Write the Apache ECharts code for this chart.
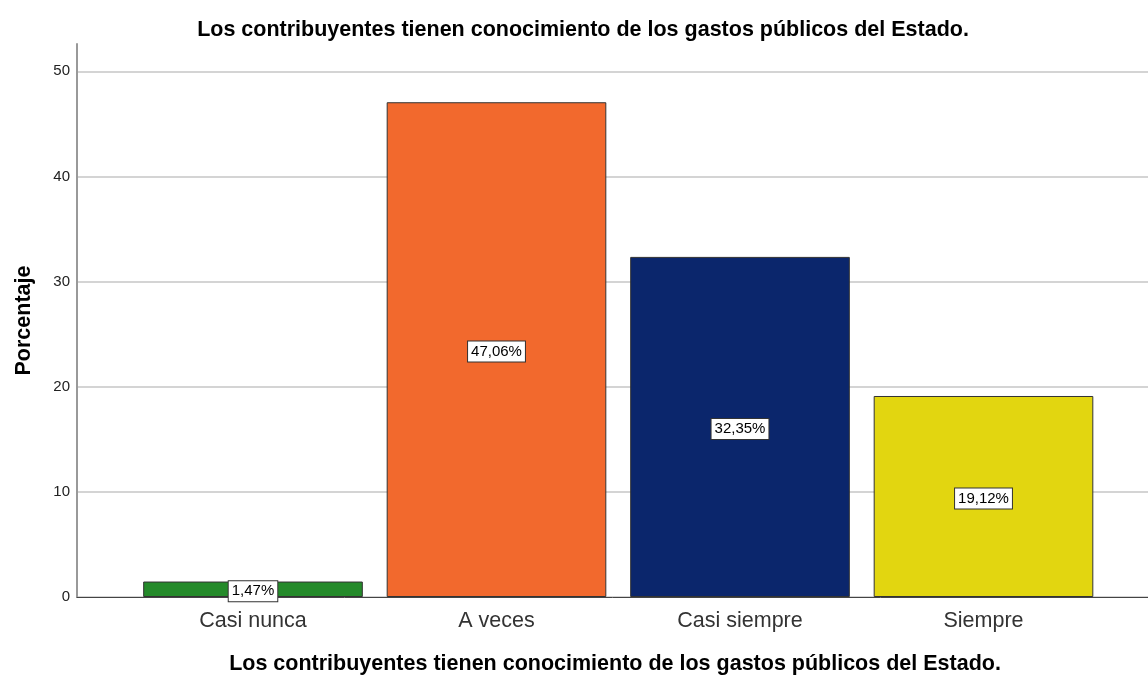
<!DOCTYPE html>
<html><head><meta charset="utf-8">
<script src="https://cdn.jsdelivr.net/npm/echarts@6/dist/echarts.min.js"></script>
<style>html,body{margin:0;padding:0;background:#fff}#c{width:1148px;height:675px}</style>
</head><body><div id="c"></div>
<script>
const categories = ['Casi nunca', 'A veces', 'Casi siempre', 'Siempre'];
const values = [1.47, 47.06, 32.35, 19.12];
const labels = ['1,47%', '47,06%', '32,35%', '19,12%'];
const colors = ['#248a2a', '#f2692d', '#0b266c', '#e2d610'];
const yTicks = [0, 10, 20, 30, 40, 50];
const titleText = 'Los contribuyentes tienen conocimiento de los gastos públicos del Estado.';
const yName = 'Porcentaje';

const chart = echarts.init(document.getElementById('c'));
const font = 'Liberation Sans, Arial, sans-serif';
const yMax = 52.6;
chart.setOption({
  animation: false,
  title: [
    {text: titleText, left: 578, top: 14, textAlign: 'center',
     textStyle: {fontFamily: font, fontWeight: 'bold', fontSize: 21.5, color: '#000'}},
    {text: titleText, left: 610, top: 648, textAlign: 'center',
     textStyle: {fontFamily: font, fontWeight: 'bold', fontSize: 21.5, color: '#000'}}
  ],
  grid: [
    {left: 77, right: 0, top: 44, bottom: 78},
    {left: 131.25, width: 974, top: 44, bottom: 78}
  ],
  xAxis: [
    {type: 'category', gridIndex: 0, data: ['x'], axisLine: {lineStyle: {color: '#444', width: 1}},
     axisTick: {show: false}, axisLabel: {show: false}},
    {type: 'category', gridIndex: 1, data: categories, axisLine: {show: false}, axisTick: {show: false},
     axisLabel: {color: '#333', fontSize: 21.5, fontFamily: font, margin: 13}}
  ],
  yAxis: [
    {type: 'value', gridIndex: 0, min: 0, max: yMax, interval: 10,
     name: yName, nameLocation: 'middle', nameGap: 42, nameRotate: 90,
     nameTextStyle: {fontFamily: font, fontWeight: 'bold', fontSize: 21.5, color: '#000'},
     axisLine: {show: true, lineStyle: {color: '#999', width: 2}},
     axisTick: {show: false},
     axisLabel: {color: '#222', fontSize: 15, fontFamily: font, margin: 7, padding: [4, 0, 0, 0],
       formatter: v => yTicks.includes(v) ? String(v) : ''},
     splitLine: {show: true, lineStyle: {color: ['#d4d4d4','#d4d4d4','#d4d4d4','#d4d4d4','#d4d4d4','#d4d4d4','rgba(0,0,0,0)'], width: 2}}},
    {type: 'value', gridIndex: 1, min: 0, max: yMax, interval: 10, show: false, splitLine: {show: false}}
  ],
  series: [{
    type: 'bar', xAxisIndex: 1, yAxisIndex: 1,
    barWidth: '90.2%',
    data: values.map((v, i) => ({value: v, itemStyle: {color: colors[i]}})),
    itemStyle: {borderColor: '#333', borderWidth: 1},
    label: {show: true, position: 'inside', offset: [0, 2], formatter: p => labels[p.dataIndex],
      color: '#000', fontSize: 15, fontFamily: font, backgroundColor: '#fff',
      borderColor: '#333', borderWidth: 1, padding: [3, 3, 2, 3]}
  }]
});
</script></body></html>
